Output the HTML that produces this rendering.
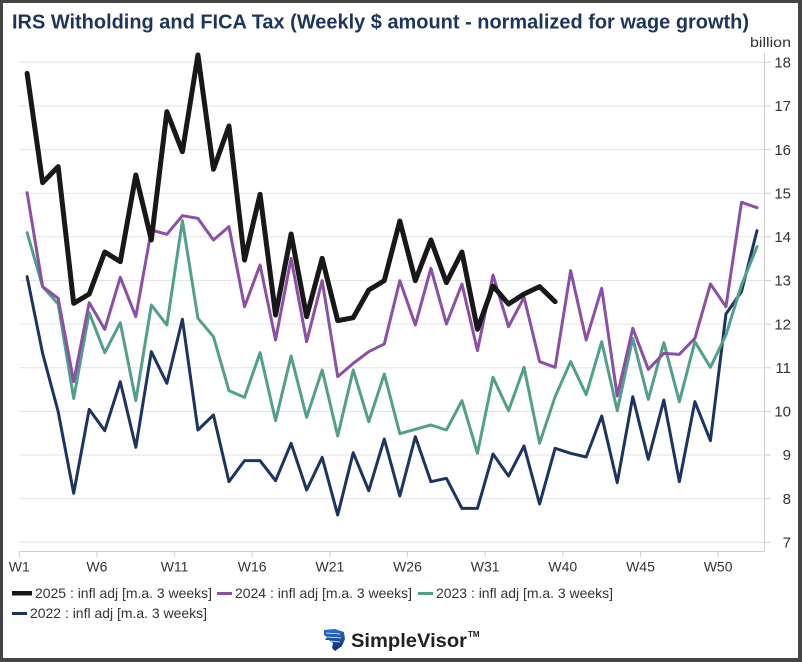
<!DOCTYPE html>
<html>
<head>
<meta charset="utf-8">
<style>
  html,body{margin:0;padding:0;background:#fff;}
  svg{display:block;}
  text{font-family:"Liberation Sans", Arial, sans-serif;}
</style>
</head>
<body>
<svg width="802" height="662" viewBox="0 0 802 662" xmlns="http://www.w3.org/2000/svg">
  <!-- frame -->
  <rect x="0" y="0" width="802" height="662" fill="#444"/>
  <rect x="3" y="3" width="795" height="655" fill="#fff"/>

  <!-- title -->
  <text x="12" y="28.3" font-size="20" font-weight="bold" fill="#1c355e" textLength="737" lengthAdjust="spacingAndGlyphs">IRS Witholding and FICA Tax (Weekly $ amount - normalized for wage growth)</text>

  <!-- gridlines -->
  <g stroke="#e3e3e3" stroke-width="1">
    <line x1="19.3" x2="764.3" y1="62.3" y2="62.3"/>
    <line x1="19.3" x2="764.3" y1="105.9" y2="105.9"/>
    <line x1="19.3" x2="764.3" y1="149.6" y2="149.6"/>
    <line x1="19.3" x2="764.3" y1="193.2" y2="193.2"/>
    <line x1="19.3" x2="764.3" y1="236.8" y2="236.8"/>
    <line x1="19.3" x2="764.3" y1="280.5" y2="280.5"/>
    <line x1="19.3" x2="764.3" y1="324.1" y2="324.1"/>
    <line x1="19.3" x2="764.3" y1="367.8" y2="367.8"/>
    <line x1="19.3" x2="764.3" y1="411.4" y2="411.4"/>
    <line x1="19.3" x2="764.3" y1="455.0" y2="455.0"/>
    <line x1="19.3" x2="764.3" y1="498.7" y2="498.7"/>
    <line x1="19.3" x2="764.3" y1="542.3" y2="542.3"/>
  </g>

  <!-- y axis line and ticks -->
  <g stroke="#cfcfcf" stroke-width="1">
    <line x1="764.5" x2="764.5" y1="53" y2="551.5"/>
    <line x1="765" x2="771" y1="62.3" y2="62.3"/>
    <line x1="765" x2="771" y1="105.9" y2="105.9"/>
    <line x1="765" x2="771" y1="149.6" y2="149.6"/>
    <line x1="765" x2="771" y1="193.2" y2="193.2"/>
    <line x1="765" x2="771" y1="236.8" y2="236.8"/>
    <line x1="765" x2="771" y1="280.5" y2="280.5"/>
    <line x1="765" x2="771" y1="324.1" y2="324.1"/>
    <line x1="765" x2="771" y1="367.8" y2="367.8"/>
    <line x1="765" x2="771" y1="411.4" y2="411.4"/>
    <line x1="765" x2="771" y1="455.0" y2="455.0"/>
    <line x1="765" x2="771" y1="498.7" y2="498.7"/>
    <line x1="765" x2="771" y1="542.3" y2="542.3"/>
  </g>

  <!-- y labels -->
  <g font-size="15" fill="#333" text-anchor="end">
    <text x="791" y="67.5">18</text>
    <text x="791" y="111.1">17</text>
    <text x="791" y="154.8">16</text>
    <text x="791" y="198.4">15</text>
    <text x="791" y="242.0">14</text>
    <text x="791" y="285.7">13</text>
    <text x="791" y="329.3">12</text>
    <text x="791" y="373.0">11</text>
    <text x="791" y="416.6">10</text>
    <text x="791" y="460.2">9</text>
    <text x="791" y="503.9">8</text>
    <text x="791" y="547.5">7</text>
  </g>
  <text x="791" y="47.2" font-size="14" fill="#333" text-anchor="end" textLength="41" lengthAdjust="spacingAndGlyphs">billion</text>

  <!-- x axis -->
  <g stroke="#cfcfcf" stroke-width="1">
    <line x1="19.3" x2="764.5" y1="551.5" y2="551.5"/>
    <line x1="19.3" x2="19.3" y1="551.5" y2="557"/>
    <line x1="96.9" x2="96.9" y1="551.5" y2="557"/>
    <line x1="174.6" x2="174.6" y1="551.5" y2="557"/>
    <line x1="252.2" x2="252.2" y1="551.5" y2="557"/>
    <line x1="329.9" x2="329.9" y1="551.5" y2="557"/>
    <line x1="407.5" x2="407.5" y1="551.5" y2="557"/>
    <line x1="485.2" x2="485.2" y1="551.5" y2="557"/>
    <line x1="562.8" x2="562.8" y1="551.5" y2="557"/>
    <line x1="640.5" x2="640.5" y1="551.5" y2="557"/>
    <line x1="718.1" x2="718.1" y1="551.5" y2="557"/>
  </g>
  <g font-size="14" fill="#333" text-anchor="middle">
    <text x="19.3" y="571.5">W1</text>
    <text x="96.9" y="571.5">W6</text>
    <text x="174.6" y="571.5">W11</text>
    <text x="252.2" y="571.5">W16</text>
    <text x="329.9" y="571.5">W21</text>
    <text x="407.5" y="571.5">W26</text>
    <text x="485.2" y="571.5">W31</text>
    <text x="562.8" y="571.5">W40</text>
    <text x="640.5" y="571.5">W45</text>
    <text x="718.1" y="571.5">W50</text>
  </g>

  <!-- series -->
  <g transform="translate(27.1 40) scale(15.53 0.333333)" fill="none" stroke-linejoin="round" stroke-linecap="round">
    <polyline vector-effect="non-scaling-stroke" stroke="#1c3560" stroke-width="3"
      points="0,710 1,940 2,1115 3,1360 4,1108 5,1172 6,1025 7,1222 8,935 9,1030 10,838 11,1170 12,1125 13,1325 14,1262 15,1262 16,1322 17,1210 18,1350 19,1252 20,1425 21,1238 22,1352 23,1197 24,1368 25,1190 26,1325 27,1315 28,1405 29,1405 30,1242 31,1308 32,1218 33,1392 34,1225 35,1240 36,1251 37,1128 38,1328 39,1070 40,1258 41,1080 42,1325 43,1085 44,1202 45,822 46,755 47,572"/>
    <polyline vector-effect="non-scaling-stroke" stroke="#52a08c" stroke-width="3"
      points="0,578 1,740 2,792 3,1075 4,818 5,938 6,848 7,1082 8,795 9,855 10,542 11,835 12,890 13,1052 14,1072 15,938 16,1142 17,948 18,1132 19,990 20,1188 21,990 22,1145 23,1002 24,1181 25,1168 26,1155 27,1170 28,1082 29,1240 30,1012 31,1112 32,982 33,1210 34,1070 35,965 36,1064 37,905 38,1112 39,895 40,1078 41,908 42,1085 43,905 44,982 45,885 46,735 47,620"/>
    <polyline vector-effect="non-scaling-stroke" stroke="#8b4fa6" stroke-width="3"
      points="0,458 1,740 2,775 3,1025 4,788 5,868 6,712 7,830 8,570 9,583 10,527 11,535 12,600 13,560 14,800 15,675 16,900 17,655 18,905 19,722 20,1010 21,970 22,935 23,912 24,722 25,855 26,685 27,852 28,732 29,932 30,705 31,860 32,772 33,965 34,982 35,692 36,900 37,745 38,1068 39,865 40,988 41,940 42,943 43,895 44,732 45,800 46,487 47,503"/>
    <polyline vector-effect="non-scaling-stroke" stroke="#181818" stroke-width="5"
      points="0,100 1,428 2,380 3,790 4,762 5,636 6,665 7,405 8,600 9,215 10,335 11,45 12,388 13,258 14,660 15,463 16,825 17,582 18,830 19,655 20,842 21,833 22,750 23,722 24,543 25,722 26,600 27,728 28,636 29,868 30,738 31,792 32,762 33,740 34,785"/>
  </g>

  <!-- legend -->
  <rect x="12" y="591" width="20" height="4.5" fill="#181818"/>
  <text x="35" y="598" font-size="14" fill="#333" textLength="177" lengthAdjust="spacingAndGlyphs">2025 : infl adj [m.a. 3 weeks]</text>
  <rect x="217" y="592" width="15" height="3" fill="#8b4fa6"/>
  <text x="235" y="598" font-size="14" fill="#333" textLength="177" lengthAdjust="spacingAndGlyphs">2024 : infl adj [m.a. 3 weeks]</text>
  <rect x="418" y="592" width="15" height="3" fill="#52a08c"/>
  <text x="436" y="598" font-size="14" fill="#333" textLength="177" lengthAdjust="spacingAndGlyphs">2023 : infl adj [m.a. 3 weeks]</text>
  <rect x="12" y="612" width="15" height="3" fill="#1c3560"/>
  <text x="30" y="618" font-size="14" fill="#333" textLength="177" lengthAdjust="spacingAndGlyphs">2022 : infl adj [m.a. 3 weeks]</text>

  <!-- logo -->
  <defs>
    <linearGradient id="lg" x1="0" y1="0" x2="0" y2="1">
      <stop offset="0" stop-color="#2a6fd0"/>
      <stop offset="1" stop-color="#102c6b"/>
    </linearGradient>
  </defs>
  <path d="M324,630 L335,629 L344,632 L345,639 L342,646 L335,651 L332,648 L333,643 L329,640 L325,640 L327,637 L324,635 Z" fill="url(#lg)"/>
  <path d="M326,633 L340,634 M327,637 L341,638 M331,641 L340,642" stroke="#fff" stroke-width="0.8" fill="none"/>
  <text x="351" y="647" font-size="19" font-weight="bold" fill="#222" textLength="116" lengthAdjust="spacingAndGlyphs">SimpleVisor</text>
  <text x="468" y="637" font-size="8" font-weight="bold" fill="#222">TM</text>
</svg>
</body>
</html>
